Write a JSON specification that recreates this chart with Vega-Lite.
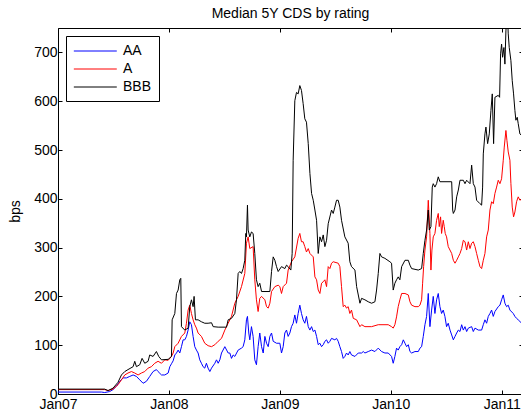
{
"$schema":"https://vega.github.io/schema/vega-lite/v6.json",
"width":465,"height":366,
"autosize":"none",
"padding":{"left":58,"top":28,"right":0,"bottom":25},
"background":"white",
"title":{"text":"Median 5Y CDS by rating","fontSize":14,"font":"Liberation Sans","fontWeight":"normal","offset":-8,"color":"black"},
"config":{"view":{"stroke":"black","strokeWidth":1},
"axis":{"domain":false,"grid":false,"tickColor":"black","tickSize":-4,"labelFont":"Liberation Sans","labelFontSize":14,"labelColor":"black","titleFont":"Liberation Sans","titleFontSize":14,"titleFontWeight":"normal","titleColor":"black"}},
"data":{"values":[
{"s":"AA","t":2007.000,"v":4},{"s":"AA","t":2007.391,"v":4},{"s":"AA","t":2007.421,"v":3},{"s":"AA","t":2007.466,"v":5},{"s":"AA","t":2007.496,"v":9},{"s":"AA","t":2007.527,"v":16},{"s":"AA","t":2007.557,"v":26},{"s":"AA","t":2007.587,"v":33},{"s":"AA","t":2007.617,"v":33},{"s":"AA","t":2007.647,"v":36},{"s":"AA","t":2007.677,"v":39},{"s":"AA","t":2007.707,"v":36},{"s":"AA","t":2007.737,"v":29},{"s":"AA","t":2007.767,"v":22},{"s":"AA","t":2007.797,"v":26},{"s":"AA","t":2007.827,"v":36},{"s":"AA","t":2007.857,"v":46},{"s":"AA","t":2007.887,"v":50},{"s":"AA","t":2007.902,"v":46},{"s":"AA","t":2007.933,"v":39},{"s":"AA","t":2007.963,"v":39},{"s":"AA","t":2007.993,"v":43},{"s":"AA","t":2008.008,"v":56},{"s":"AA","t":2008.023,"v":62},{"s":"AA","t":2008.038,"v":68},{"s":"AA","t":2008.053,"v":80},{"s":"AA","t":2008.068,"v":84},{"s":"AA","t":2008.083,"v":90},{"s":"AA","t":2008.098,"v":84},{"s":"AA","t":2008.113,"v":97},{"s":"AA","t":2008.128,"v":111},{"s":"AA","t":2008.143,"v":111},{"s":"AA","t":2008.158,"v":118},{"s":"AA","t":2008.173,"v":131},{"s":"AA","t":2008.188,"v":148},{"s":"AA","t":2008.203,"v":142},{"s":"AA","t":2008.218,"v":118},{"s":"AA","t":2008.233,"v":97},{"s":"AA","t":2008.248,"v":90},{"s":"AA","t":2008.263,"v":84},{"s":"AA","t":2008.278,"v":70},{"s":"AA","t":2008.293,"v":63},{"s":"AA","t":2008.308,"v":56},{"s":"AA","t":2008.323,"v":53},{"s":"AA","t":2008.338,"v":63},{"s":"AA","t":2008.353,"v":53},{"s":"AA","t":2008.369,"v":46},{"s":"AA","t":2008.384,"v":53},{"s":"AA","t":2008.414,"v":63},{"s":"AA","t":2008.429,"v":70},{"s":"AA","t":2008.444,"v":63},{"s":"AA","t":2008.459,"v":70},{"s":"AA","t":2008.474,"v":84},{"s":"AA","t":2008.504,"v":97},{"s":"AA","t":2008.534,"v":84},{"s":"AA","t":2008.549,"v":84},{"s":"AA","t":2008.564,"v":73},{"s":"AA","t":2008.579,"v":80},{"s":"AA","t":2008.594,"v":77},{"s":"AA","t":2008.624,"v":90},{"s":"AA","t":2008.654,"v":94},{"s":"AA","t":2008.669,"v":97},{"s":"AA","t":2008.684,"v":111},{"s":"AA","t":2008.699,"v":152},{"s":"AA","t":2008.708,"v":159},{"s":"AA","t":2008.720,"v":125},{"s":"AA","t":2008.729,"v":111},{"s":"AA","t":2008.744,"v":138},{"s":"AA","t":2008.759,"v":118},{"s":"AA","t":2008.774,"v":70},{"s":"AA","t":2008.789,"v":60},{"s":"AA","t":2008.804,"v":97},{"s":"AA","t":2008.819,"v":125},{"s":"AA","t":2008.835,"v":97},{"s":"AA","t":2008.850,"v":84},{"s":"AA","t":2008.865,"v":118},{"s":"AA","t":2008.880,"v":104},{"s":"AA","t":2008.895,"v":97},{"s":"AA","t":2008.910,"v":118},{"s":"AA","t":2008.925,"v":125},{"s":"AA","t":2008.940,"v":108},{"s":"AA","t":2008.970,"v":104},{"s":"AA","t":2009.000,"v":104},{"s":"AA","t":2009.015,"v":84},{"s":"AA","t":2009.030,"v":97},{"s":"AA","t":2009.045,"v":125},{"s":"AA","t":2009.060,"v":131},{"s":"AA","t":2009.075,"v":118},{"s":"AA","t":2009.090,"v":125},{"s":"AA","t":2009.105,"v":138},{"s":"AA","t":2009.120,"v":145},{"s":"AA","t":2009.135,"v":162},{"s":"AA","t":2009.150,"v":145},{"s":"AA","t":2009.165,"v":165},{"s":"AA","t":2009.180,"v":182},{"s":"AA","t":2009.195,"v":165},{"s":"AA","t":2009.210,"v":152},{"s":"AA","t":2009.225,"v":145},{"s":"AA","t":2009.240,"v":159},{"s":"AA","t":2009.256,"v":138},{"s":"AA","t":2009.271,"v":131},{"s":"AA","t":2009.286,"v":138},{"s":"AA","t":2009.301,"v":128},{"s":"AA","t":2009.316,"v":131},{"s":"AA","t":2009.331,"v":118},{"s":"AA","t":2009.346,"v":101},{"s":"AA","t":2009.361,"v":104},{"s":"AA","t":2009.376,"v":97},{"s":"AA","t":2009.391,"v":101},{"s":"AA","t":2009.406,"v":108},{"s":"AA","t":2009.421,"v":111},{"s":"AA","t":2009.436,"v":104},{"s":"AA","t":2009.451,"v":108},{"s":"AA","t":2009.466,"v":114},{"s":"AA","t":2009.496,"v":111},{"s":"AA","t":2009.511,"v":114},{"s":"AA","t":2009.526,"v":108},{"s":"AA","t":2009.541,"v":97},{"s":"AA","t":2009.556,"v":87},{"s":"AA","t":2009.571,"v":73},{"s":"AA","t":2009.586,"v":77},{"s":"AA","t":2009.601,"v":84},{"s":"AA","t":2009.616,"v":80},{"s":"AA","t":2009.631,"v":87},{"s":"AA","t":2009.646,"v":80},{"s":"AA","t":2009.677,"v":77},{"s":"AA","t":2009.707,"v":84},{"s":"AA","t":2009.737,"v":84},{"s":"AA","t":2009.752,"v":87},{"s":"AA","t":2009.767,"v":84},{"s":"AA","t":2009.797,"v":87},{"s":"AA","t":2009.827,"v":90},{"s":"AA","t":2009.857,"v":87},{"s":"AA","t":2009.887,"v":94},{"s":"AA","t":2009.917,"v":87},{"s":"AA","t":2009.947,"v":84},{"s":"AA","t":2009.977,"v":84},{"s":"AA","t":2010.007,"v":77},{"s":"AA","t":2010.022,"v":63},{"s":"AA","t":2010.037,"v":77},{"s":"AA","t":2010.052,"v":94},{"s":"AA","t":2010.067,"v":90},{"s":"AA","t":2010.082,"v":97},{"s":"AA","t":2010.098,"v":101},{"s":"AA","t":2010.113,"v":111},{"s":"AA","t":2010.128,"v":104},{"s":"AA","t":2010.143,"v":97},{"s":"AA","t":2010.158,"v":101},{"s":"AA","t":2010.173,"v":87},{"s":"AA","t":2010.188,"v":84},{"s":"AA","t":2010.218,"v":87},{"s":"AA","t":2010.248,"v":87},{"s":"AA","t":2010.263,"v":94},{"s":"AA","t":2010.278,"v":97},{"s":"AA","t":2010.293,"v":118},{"s":"AA","t":2010.308,"v":142},{"s":"AA","t":2010.323,"v":159},{"s":"AA","t":2010.338,"v":206},{"s":"AA","t":2010.353,"v":138},{"s":"AA","t":2010.368,"v":172},{"s":"AA","t":2010.383,"v":200},{"s":"AA","t":2010.398,"v":165},{"s":"AA","t":2010.413,"v":193},{"s":"AA","t":2010.428,"v":206},{"s":"AA","t":2010.443,"v":179},{"s":"AA","t":2010.458,"v":165},{"s":"AA","t":2010.473,"v":172},{"s":"AA","t":2010.488,"v":159},{"s":"AA","t":2010.503,"v":138},{"s":"AA","t":2010.518,"v":145},{"s":"AA","t":2010.534,"v":131},{"s":"AA","t":2010.549,"v":121},{"s":"AA","t":2010.564,"v":111},{"s":"AA","t":2010.579,"v":118},{"s":"AA","t":2010.594,"v":125},{"s":"AA","t":2010.609,"v":131},{"s":"AA","t":2010.624,"v":128},{"s":"AA","t":2010.639,"v":142},{"s":"AA","t":2010.654,"v":131},{"s":"AA","t":2010.669,"v":138},{"s":"AA","t":2010.684,"v":128},{"s":"AA","t":2010.699,"v":135},{"s":"AA","t":2010.729,"v":138},{"s":"AA","t":2010.744,"v":128},{"s":"AA","t":2010.759,"v":135},{"s":"AA","t":2010.789,"v":131},{"s":"AA","t":2010.819,"v":131},{"s":"AA","t":2010.834,"v":142},{"s":"AA","t":2010.849,"v":152},{"s":"AA","t":2010.864,"v":145},{"s":"AA","t":2010.879,"v":159},{"s":"AA","t":2010.894,"v":165},{"s":"AA","t":2010.909,"v":172},{"s":"AA","t":2010.924,"v":159},{"s":"AA","t":2010.939,"v":169},{"s":"AA","t":2010.969,"v":179},{"s":"AA","t":2010.984,"v":182},{"s":"AA","t":2010.999,"v":193},{"s":"AA","t":2011.014,"v":203},{"s":"AA","t":2011.029,"v":186},{"s":"AA","t":2011.044,"v":179},{"s":"AA","t":2011.059,"v":182},{"s":"AA","t":2011.074,"v":172},{"s":"AA","t":2011.104,"v":165},{"s":"AA","t":2011.119,"v":159},{"s":"AA","t":2011.134,"v":155},{"s":"AA","t":2011.149,"v":152},{"s":"AA","t":2011.180,"v":145},
{"s":"A","t":2007.000,"v":9},{"s":"A","t":2007.421,"v":9},{"s":"A","t":2007.451,"v":7},{"s":"A","t":2007.496,"v":10},{"s":"A","t":2007.541,"v":19},{"s":"A","t":2007.572,"v":29},{"s":"A","t":2007.602,"v":39},{"s":"A","t":2007.631,"v":43},{"s":"A","t":2007.662,"v":46},{"s":"A","t":2007.692,"v":43},{"s":"A","t":2007.722,"v":39},{"s":"A","t":2007.752,"v":43},{"s":"A","t":2007.782,"v":46},{"s":"A","t":2007.812,"v":53},{"s":"A","t":2007.842,"v":56},{"s":"A","t":2007.872,"v":63},{"s":"A","t":2007.902,"v":67},{"s":"A","t":2007.933,"v":63},{"s":"A","t":2007.963,"v":70},{"s":"A","t":2007.993,"v":69},{"s":"A","t":2008.023,"v":77},{"s":"A","t":2008.038,"v":84},{"s":"A","t":2008.053,"v":97},{"s":"A","t":2008.083,"v":104},{"s":"A","t":2008.113,"v":118},{"s":"A","t":2008.143,"v":125},{"s":"A","t":2008.158,"v":145},{"s":"A","t":2008.173,"v":172},{"s":"A","t":2008.188,"v":182},{"s":"A","t":2008.203,"v":165},{"s":"A","t":2008.218,"v":152},{"s":"A","t":2008.233,"v":142},{"s":"A","t":2008.248,"v":135},{"s":"A","t":2008.263,"v":125},{"s":"A","t":2008.293,"v":118},{"s":"A","t":2008.323,"v":104},{"s":"A","t":2008.353,"v":99},{"s":"A","t":2008.384,"v":97},{"s":"A","t":2008.414,"v":101},{"s":"A","t":2008.444,"v":108},{"s":"A","t":2008.474,"v":114},{"s":"A","t":2008.504,"v":131},{"s":"A","t":2008.534,"v":145},{"s":"A","t":2008.564,"v":159},{"s":"A","t":2008.594,"v":186},{"s":"A","t":2008.624,"v":200},{"s":"A","t":2008.654,"v":220},{"s":"A","t":2008.684,"v":247},{"s":"A","t":2008.699,"v":309},{"s":"A","t":2008.714,"v":322},{"s":"A","t":2008.729,"v":298},{"s":"A","t":2008.759,"v":302},{"s":"A","t":2008.774,"v":234},{"s":"A","t":2008.789,"v":193},{"s":"A","t":2008.804,"v":169},{"s":"A","t":2008.819,"v":196},{"s":"A","t":2008.835,"v":200},{"s":"A","t":2008.865,"v":193},{"s":"A","t":2008.880,"v":179},{"s":"A","t":2008.895,"v":176},{"s":"A","t":2008.910,"v":186},{"s":"A","t":2008.925,"v":210},{"s":"A","t":2008.955,"v":220},{"s":"A","t":2008.985,"v":223},{"s":"A","t":2009.000,"v":220},{"s":"A","t":2009.015,"v":206},{"s":"A","t":2009.030,"v":220},{"s":"A","t":2009.060,"v":227},{"s":"A","t":2009.075,"v":254},{"s":"A","t":2009.105,"v":271},{"s":"A","t":2009.135,"v":281},{"s":"A","t":2009.165,"v":319},{"s":"A","t":2009.180,"v":329},{"s":"A","t":2009.195,"v":312},{"s":"A","t":2009.210,"v":312},{"s":"A","t":2009.225,"v":302},{"s":"A","t":2009.240,"v":291},{"s":"A","t":2009.256,"v":298},{"s":"A","t":2009.271,"v":288},{"s":"A","t":2009.301,"v":281},{"s":"A","t":2009.316,"v":240},{"s":"A","t":2009.331,"v":234},{"s":"A","t":2009.346,"v":213},{"s":"A","t":2009.361,"v":206},{"s":"A","t":2009.376,"v":227},{"s":"A","t":2009.391,"v":230},{"s":"A","t":2009.406,"v":234},{"s":"A","t":2009.421,"v":220},{"s":"A","t":2009.436,"v":261},{"s":"A","t":2009.451,"v":257},{"s":"A","t":2009.466,"v":268},{"s":"A","t":2009.481,"v":271},{"s":"A","t":2009.526,"v":268},{"s":"A","t":2009.541,"v":261},{"s":"A","t":2009.556,"v":220},{"s":"A","t":2009.571,"v":179},{"s":"A","t":2009.586,"v":182},{"s":"A","t":2009.601,"v":176},{"s":"A","t":2009.616,"v":179},{"s":"A","t":2009.631,"v":165},{"s":"A","t":2009.646,"v":172},{"s":"A","t":2009.662,"v":155},{"s":"A","t":2009.692,"v":152},{"s":"A","t":2009.722,"v":138},{"s":"A","t":2009.737,"v":142},{"s":"A","t":2009.767,"v":138},{"s":"A","t":2009.827,"v":138},{"s":"A","t":2009.887,"v":142},{"s":"A","t":2009.977,"v":142},{"s":"A","t":2010.007,"v":138},{"s":"A","t":2010.022,"v":135},{"s":"A","t":2010.037,"v":142},{"s":"A","t":2010.052,"v":158},{"s":"A","t":2010.067,"v":179},{"s":"A","t":2010.082,"v":193},{"s":"A","t":2010.098,"v":206},{"s":"A","t":2010.128,"v":206},{"s":"A","t":2010.158,"v":203},{"s":"A","t":2010.173,"v":189},{"s":"A","t":2010.188,"v":182},{"s":"A","t":2010.218,"v":179},{"s":"A","t":2010.248,"v":179},{"s":"A","t":2010.263,"v":182},{"s":"A","t":2010.278,"v":193},{"s":"A","t":2010.287,"v":227},{"s":"A","t":2010.296,"v":261},{"s":"A","t":2010.308,"v":295},{"s":"A","t":2010.323,"v":322},{"s":"A","t":2010.338,"v":397},{"s":"A","t":2010.353,"v":329},{"s":"A","t":2010.362,"v":254},{"s":"A","t":2010.371,"v":295},{"s":"A","t":2010.383,"v":322},{"s":"A","t":2010.398,"v":329},{"s":"A","t":2010.413,"v":356},{"s":"A","t":2010.428,"v":370},{"s":"A","t":2010.437,"v":343},{"s":"A","t":2010.449,"v":363},{"s":"A","t":2010.458,"v":329},{"s":"A","t":2010.473,"v":356},{"s":"A","t":2010.482,"v":343},{"s":"A","t":2010.491,"v":329},{"s":"A","t":2010.503,"v":322},{"s":"A","t":2010.518,"v":302},{"s":"A","t":2010.549,"v":288},{"s":"A","t":2010.564,"v":274},{"s":"A","t":2010.579,"v":268},{"s":"A","t":2010.594,"v":274},{"s":"A","t":2010.609,"v":281},{"s":"A","t":2010.624,"v":288},{"s":"A","t":2010.639,"v":298},{"s":"A","t":2010.654,"v":315},{"s":"A","t":2010.669,"v":312},{"s":"A","t":2010.684,"v":295},{"s":"A","t":2010.699,"v":312},{"s":"A","t":2010.714,"v":298},{"s":"A","t":2010.729,"v":309},{"s":"A","t":2010.744,"v":312},{"s":"A","t":2010.759,"v":302},{"s":"A","t":2010.774,"v":288},{"s":"A","t":2010.789,"v":274},{"s":"A","t":2010.804,"v":261},{"s":"A","t":2010.819,"v":257},{"s":"A","t":2010.834,"v":274},{"s":"A","t":2010.849,"v":288},{"s":"A","t":2010.864,"v":322},{"s":"A","t":2010.879,"v":336},{"s":"A","t":2010.894,"v":377},{"s":"A","t":2010.909,"v":394},{"s":"A","t":2010.924,"v":390},{"s":"A","t":2010.939,"v":411},{"s":"A","t":2010.954,"v":424},{"s":"A","t":2010.969,"v":438},{"s":"A","t":2010.984,"v":431},{"s":"A","t":2010.999,"v":441},{"s":"A","t":2011.014,"v":479},{"s":"A","t":2011.023,"v":506},{"s":"A","t":2011.038,"v":540},{"s":"A","t":2011.047,"v":520},{"s":"A","t":2011.059,"v":496},{"s":"A","t":2011.074,"v":479},{"s":"A","t":2011.083,"v":431},{"s":"A","t":2011.095,"v":383},{"s":"A","t":2011.107,"v":363},{"s":"A","t":2011.119,"v":373},{"s":"A","t":2011.134,"v":394},{"s":"A","t":2011.149,"v":404},{"s":"A","t":2011.164,"v":397},{"s":"A","t":2011.180,"v":400},
{"s":"BBB","t":2007.000,"v":10},{"s":"BBB","t":2007.421,"v":10},{"s":"BBB","t":2007.451,"v":7},{"s":"BBB","t":2007.496,"v":12},{"s":"BBB","t":2007.541,"v":24},{"s":"BBB","t":2007.572,"v":39},{"s":"BBB","t":2007.602,"v":46},{"s":"BBB","t":2007.631,"v":50},{"s":"BBB","t":2007.677,"v":56},{"s":"BBB","t":2007.692,"v":67},{"s":"BBB","t":2007.707,"v":56},{"s":"BBB","t":2007.737,"v":60},{"s":"BBB","t":2007.758,"v":73},{"s":"BBB","t":2007.782,"v":63},{"s":"BBB","t":2007.812,"v":67},{"s":"BBB","t":2007.827,"v":80},{"s":"BBB","t":2007.857,"v":77},{"s":"BBB","t":2007.887,"v":87},{"s":"BBB","t":2007.908,"v":77},{"s":"BBB","t":2007.933,"v":70},{"s":"BBB","t":2007.993,"v":71},{"s":"BBB","t":2008.023,"v":77},{"s":"BBB","t":2008.029,"v":152},{"s":"BBB","t":2008.053,"v":165},{"s":"BBB","t":2008.068,"v":206},{"s":"BBB","t":2008.083,"v":213},{"s":"BBB","t":2008.098,"v":234},{"s":"BBB","t":2008.107,"v":237},{"s":"BBB","t":2008.113,"v":138},{"s":"BBB","t":2008.143,"v":131},{"s":"BBB","t":2008.173,"v":135},{"s":"BBB","t":2008.188,"v":179},{"s":"BBB","t":2008.203,"v":193},{"s":"BBB","t":2008.218,"v":179},{"s":"BBB","t":2008.227,"v":200},{"s":"BBB","t":2008.239,"v":152},{"s":"BBB","t":2008.263,"v":152},{"s":"BBB","t":2008.293,"v":148},{"s":"BBB","t":2008.323,"v":145},{"s":"BBB","t":2008.353,"v":145},{"s":"BBB","t":2008.384,"v":146},{"s":"BBB","t":2008.399,"v":138},{"s":"BBB","t":2008.444,"v":137},{"s":"BBB","t":2008.519,"v":137},{"s":"BBB","t":2008.534,"v":152},{"s":"BBB","t":2008.564,"v":155},{"s":"BBB","t":2008.594,"v":165},{"s":"BBB","t":2008.609,"v":193},{"s":"BBB","t":2008.624,"v":247},{"s":"BBB","t":2008.639,"v":251},{"s":"BBB","t":2008.654,"v":247},{"s":"BBB","t":2008.669,"v":257},{"s":"BBB","t":2008.684,"v":274},{"s":"BBB","t":2008.693,"v":329},{"s":"BBB","t":2008.699,"v":322},{"s":"BBB","t":2008.708,"v":387},{"s":"BBB","t":2008.714,"v":336},{"s":"BBB","t":2008.729,"v":322},{"s":"BBB","t":2008.744,"v":332},{"s":"BBB","t":2008.759,"v":329},{"s":"BBB","t":2008.774,"v":288},{"s":"BBB","t":2008.789,"v":234},{"s":"BBB","t":2008.804,"v":220},{"s":"BBB","t":2008.819,"v":227},{"s":"BBB","t":2008.835,"v":210},{"s":"BBB","t":2008.910,"v":210},{"s":"BBB","t":2008.925,"v":251},{"s":"BBB","t":2008.940,"v":281},{"s":"BBB","t":2008.955,"v":274},{"s":"BBB","t":2008.970,"v":261},{"s":"BBB","t":2008.985,"v":251},{"s":"BBB","t":2009.015,"v":261},{"s":"BBB","t":2009.045,"v":257},{"s":"BBB","t":2009.060,"v":264},{"s":"BBB","t":2009.075,"v":261},{"s":"BBB","t":2009.099,"v":254},{"s":"BBB","t":2009.111,"v":288},{"s":"BBB","t":2009.120,"v":479},{"s":"BBB","t":2009.135,"v":601},{"s":"BBB","t":2009.150,"v":618},{"s":"BBB","t":2009.165,"v":615},{"s":"BBB","t":2009.180,"v":632},{"s":"BBB","t":2009.195,"v":622},{"s":"BBB","t":2009.210,"v":595},{"s":"BBB","t":2009.225,"v":564},{"s":"BBB","t":2009.240,"v":557},{"s":"BBB","t":2009.256,"v":513},{"s":"BBB","t":2009.271,"v":452},{"s":"BBB","t":2009.286,"v":411},{"s":"BBB","t":2009.301,"v":397},{"s":"BBB","t":2009.316,"v":377},{"s":"BBB","t":2009.331,"v":356},{"s":"BBB","t":2009.346,"v":288},{"s":"BBB","t":2009.361,"v":322},{"s":"BBB","t":2009.376,"v":312},{"s":"BBB","t":2009.391,"v":326},{"s":"BBB","t":2009.406,"v":302},{"s":"BBB","t":2009.421,"v":315},{"s":"BBB","t":2009.436,"v":349},{"s":"BBB","t":2009.466,"v":377},{"s":"BBB","t":2009.481,"v":370},{"s":"BBB","t":2009.496,"v":383},{"s":"BBB","t":2009.511,"v":397},{"s":"BBB","t":2009.526,"v":397},{"s":"BBB","t":2009.541,"v":383},{"s":"BBB","t":2009.556,"v":356},{"s":"BBB","t":2009.586,"v":322},{"s":"BBB","t":2009.616,"v":309},{"s":"BBB","t":2009.631,"v":271},{"s":"BBB","t":2009.646,"v":261},{"s":"BBB","t":2009.677,"v":254},{"s":"BBB","t":2009.692,"v":220},{"s":"BBB","t":2009.722,"v":186},{"s":"BBB","t":2009.737,"v":196},{"s":"BBB","t":2009.767,"v":193},{"s":"BBB","t":2009.797,"v":189},{"s":"BBB","t":2009.827,"v":186},{"s":"BBB","t":2009.857,"v":189},{"s":"BBB","t":2009.872,"v":213},{"s":"BBB","t":2009.887,"v":247},{"s":"BBB","t":2009.902,"v":288},{"s":"BBB","t":2009.917,"v":281},{"s":"BBB","t":2009.947,"v":278},{"s":"BBB","t":2009.992,"v":271},{"s":"BBB","t":2010.007,"v":268},{"s":"BBB","t":2010.022,"v":213},{"s":"BBB","t":2010.037,"v":227},{"s":"BBB","t":2010.052,"v":234},{"s":"BBB","t":2010.067,"v":240},{"s":"BBB","t":2010.082,"v":234},{"s":"BBB","t":2010.098,"v":261},{"s":"BBB","t":2010.128,"v":274},{"s":"BBB","t":2010.158,"v":274},{"s":"BBB","t":2010.173,"v":264},{"s":"BBB","t":2010.188,"v":257},{"s":"BBB","t":2010.248,"v":254},{"s":"BBB","t":2010.278,"v":257},{"s":"BBB","t":2010.293,"v":288},{"s":"BBB","t":2010.308,"v":315},{"s":"BBB","t":2010.323,"v":336},{"s":"BBB","t":2010.338,"v":377},{"s":"BBB","t":2010.347,"v":336},{"s":"BBB","t":2010.362,"v":343},{"s":"BBB","t":2010.374,"v":424},{"s":"BBB","t":2010.383,"v":431},{"s":"BBB","t":2010.398,"v":424},{"s":"BBB","t":2010.413,"v":431},{"s":"BBB","t":2010.428,"v":445},{"s":"BBB","t":2010.443,"v":435},{"s":"BBB","t":2010.549,"v":435},{"s":"BBB","t":2010.558,"v":377},{"s":"BBB","t":2010.564,"v":370},{"s":"BBB","t":2010.579,"v":377},{"s":"BBB","t":2010.594,"v":404},{"s":"BBB","t":2010.609,"v":418},{"s":"BBB","t":2010.624,"v":438},{"s":"BBB","t":2010.654,"v":438},{"s":"BBB","t":2010.669,"v":431},{"s":"BBB","t":2010.684,"v":438},{"s":"BBB","t":2010.714,"v":431},{"s":"BBB","t":2010.729,"v":469},{"s":"BBB","t":2010.744,"v":431},{"s":"BBB","t":2010.759,"v":424},{"s":"BBB","t":2010.774,"v":397},{"s":"BBB","t":2010.804,"v":390},{"s":"BBB","t":2010.819,"v":387},{"s":"BBB","t":2010.828,"v":424},{"s":"BBB","t":2010.834,"v":492},{"s":"BBB","t":2010.849,"v":533},{"s":"BBB","t":2010.858,"v":547},{"s":"BBB","t":2010.873,"v":513},{"s":"BBB","t":2010.888,"v":533},{"s":"BBB","t":2010.903,"v":581},{"s":"BBB","t":2010.915,"v":615},{"s":"BBB","t":2010.927,"v":513},{"s":"BBB","t":2010.939,"v":608},{"s":"BBB","t":2010.969,"v":612},{"s":"BBB","t":2010.981,"v":608},{"s":"BBB","t":2010.990,"v":697},{"s":"BBB","t":2010.999,"v":717},{"s":"BBB","t":2011.008,"v":690},{"s":"BBB","t":2011.020,"v":710},{"s":"BBB","t":2011.029,"v":676},{"s":"BBB","t":2011.038,"v":744},{"s":"BBB","t":2011.047,"v":775},{"s":"BBB","t":2011.053,"v":770},{"s":"BBB","t":2011.059,"v":738},{"s":"BBB","t":2011.068,"v":710},{"s":"BBB","t":2011.083,"v":683},{"s":"BBB","t":2011.095,"v":642},{"s":"BBB","t":2011.107,"v":615},{"s":"BBB","t":2011.119,"v":581},{"s":"BBB","t":2011.128,"v":561},{"s":"BBB","t":2011.140,"v":567},{"s":"BBB","t":2011.149,"v":554},{"s":"BBB","t":2011.164,"v":533},{"s":"BBB","t":2011.180,"v":530}
]},
"layer":[
{"mark":{"type":"line","strokeWidth":1,"clip":true},
"encoding":{
"x":{"field":"t","type":"quantitative","scale":{"domain":[2007,2011.192],"nice":false,"zero":false},
"axis":{"orient":"bottom","values":[2007,2008,2009,2010,2011],"labelExpr":"'Jan' + substring(toString(datum.value), 2, 4)","title":null,"labelPadding":7,"labelFlush":false}},
"y":{"field":"v","type":"quantitative","scale":{"domain":[0,750],"nice":false},
"axis":{"orient":"left","values":[0,100,200,300,400,500,600,700],"title":"bps","labelPadding":5,"titlePadding":11}},
"color":{"field":"s","type":"nominal","scale":{"domain":["AA","A","BBB"],"range":["#0000ff","#ff0000","#000000"]},
"legend":{"title":null,"orient":"top-left","offset":8,"fillColor":"white","strokeColor":"black","padding":7,"symbolType":"M-1,0L5,0","symbolSize":205,"symbolStrokeWidth":1,"symbolFillColor":"transparent","labelFont":"Liberation Sans","labelFontSize":14,"labelColor":"black","labelOffset":34,"rowPadding":3,
"encode":{"symbols":{"update":{"stroke":{"scale":"color","field":"value"},"fill":{"value":"transparent"}}}}}}
}},
{"mark":{"type":"point","opacity":0},
"encoding":{
"x":{"field":"t","type":"quantitative","axis":{"orient":"top","values":[2007,2008,2009,2010,2011],"labels":false,"title":null}},
"y":{"field":"v","type":"quantitative","axis":{"orient":"right","values":[0,100,200,300,400,500,600,700],"labels":false,"title":null}}
}}
],
"resolve":{"axis":{"x":"independent","y":"independent"}}
}
